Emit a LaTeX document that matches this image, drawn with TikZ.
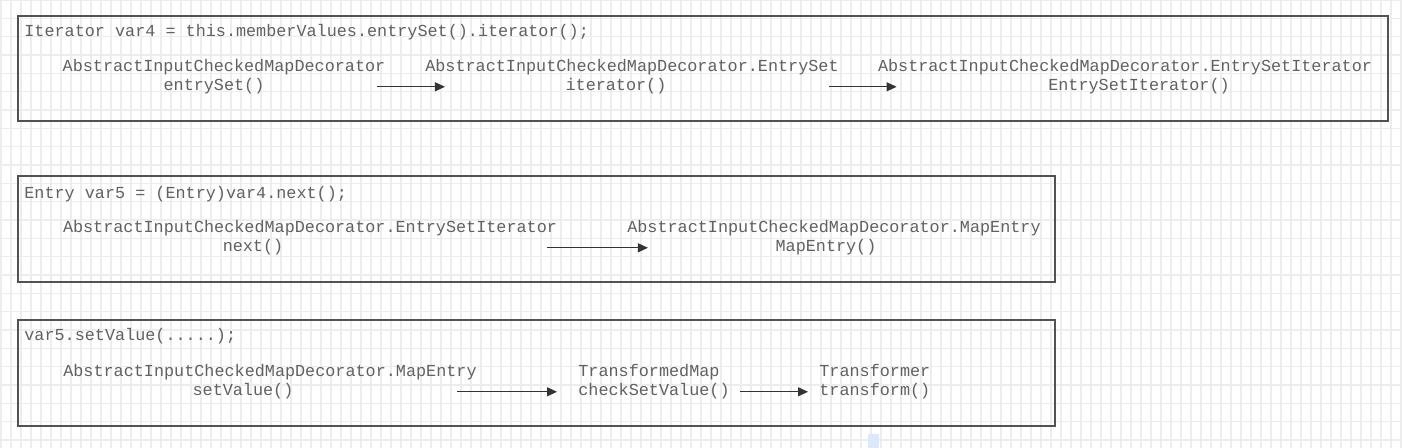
\documentclass[tikz,border=0pt]{standalone}
\usepackage{fontspec}
\setmonofont{Liberation Mono}
\usepackage{tikz}
\usetikzlibrary{arrows.meta, positioning, calc}
\definecolor{selblue}{HTML}{DCE9FA}
\newcommand{\codefont}{\ttfamily\fontsize{8.4}{9}\selectfont}

\begin{document}
\begin{tikzpicture}[
  x=0.5pt, y=-0.5pt,
  gridline/.style={draw=black!7, line width=0.6pt},
  frame/.style={draw=black!68, line width=0.65pt},
  code/.style={font=\codefont, text=black!62, inner sep=0pt, anchor=west},
  call/.style={font=\codefont, text=black!62, inner sep=0pt, align=center, text height=6.5pt, text depth=2.5pt},
  arrow/.style={-{Triangle[length=5pt, width=4.5pt]}, line width=0.5pt, draw=black!80}
]
\useasboundingbox (0,0) rectangle (1402,448);
\fill[white] (0,0) rectangle (1402,448);
\foreach \gx in {1,11,...,1401} \draw[gridline] (\gx,0) -- (\gx,448);
\foreach \gy in {0,...,24} \draw[gridline] (0,18.33*\gy) -- (1402,18.33*\gy);
\fill[selblue] (868,434) rectangle (879,448);

% first statement
\draw[frame] (18,16) rectangle (1388,121);
\node[code] (iterline) at (24,32) {Iterator var4 = this.memberValues.entrySet().iterator();};
\node[call] (decor) at (224,68) {AbstractInputCheckedMapDecorator};
\node[call, below=0pt of decor, xshift=-5pt] (entrysetcall) {entrySet()};
\node[call] (entryset) at (632,68) {AbstractInputCheckedMapDecorator.EntrySet};
\node[call, below=0pt of entryset, xshift=-8pt] (iteratorcall) {iterator()};
\node[call] (setiter) at (1125,68) {AbstractInputCheckedMapDecorator.EntrySetIterator};
\node[call, below=0pt of setiter, xshift=7pt] (setitercall) {EntrySetIterator()};

\draw[arrow] ($(decor.east |- entrysetcall)+(-9,0)$) -- ($(entryset.west |- entrysetcall)+(20,0)$);
\draw[arrow] ($(entryset.east |- iteratorcall)+(-10,0)$) -- ($(setiter.west |- iteratorcall)+(19,0)$);

% second statement
\draw[frame] (18,176) rectangle (1055,282);
\node[code] (nextline) at (24,194) {Entry var5 = (Entry)var4.next();};
\node[call] (iterclass) at (310,229) {AbstractInputCheckedMapDecorator.EntrySetIterator};
\node[call, below=0pt of iterclass, xshift=-28.5pt] (nextcall) {next()};
\node[call] (mapentry) at (834,229) {AbstractInputCheckedMapDecorator.MapEntry};
\node[call, below=0pt of mapentry, xshift=-4pt] (mapentrycall) {MapEntry()};

\draw[arrow] ($(iterclass.east |- nextcall)+(-10,0)$) -- ($(mapentry.west |- nextcall)+(21,0)$);

% third statement
\draw[frame] (18,320) rectangle (1055,426);
\node[code] (setline) at (24,336) {var5.setValue(.....);};
\node[call] (entryclass) at (270,373) {AbstractInputCheckedMapDecorator.MapEntry};
\node[call, below=0pt of entryclass, xshift=-13.5pt] (setvaluecall) {setValue()};
\node[call, anchor=west] (tmap) at (578,373) {TransformedMap};
\node[call, below=0pt of tmap.south west, anchor=north west] (checkcall) {checkSetValue()};
\node[call, anchor=west] (transformer) at (819,373) {Transformer};
\node[call, below=0pt of transformer.south west, anchor=north west] (transformcall) {transform()};

\draw[arrow] ($(entryclass.east |- setvaluecall)+(-20,0)$) -- ($(tmap.west |- setvaluecall)+(-21,0)$);
\draw[arrow] ($(checkcall.east)+(10,0)$) -- ($(transformer.west |- checkcall)+(-11,0)$);
\end{tikzpicture}
\end{document}
